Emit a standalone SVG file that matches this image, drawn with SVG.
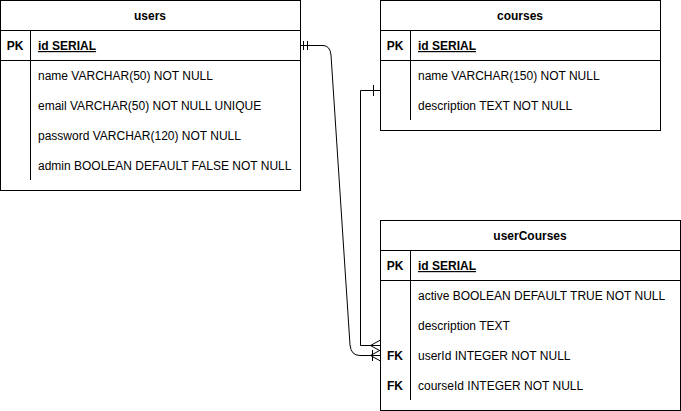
<svg xmlns="http://www.w3.org/2000/svg" width="681" height="411" viewBox="0 0 681 411">
<style>
.box{fill:#fff;stroke:#000;stroke-width:1}
.ln{stroke:#000;stroke-width:1;fill:none}
text{font-family:"Liberation Sans",Arial,sans-serif;font-size:12px;fill:#000}
.h{font-weight:bold;text-anchor:middle}
.k{font-weight:bold;text-anchor:middle}
.pk{font-weight:bold;text-decoration:underline}
.c{fill:none;stroke:#000;stroke-width:1}
</style>
<rect width="681" height="411" fill="#fff"/>
<g id="users">
<rect class="box" x="0.5" y="0.5" width="300" height="190"/>
<line class="ln" x1="0.5" y1="30.5" x2="300.5" y2="30.5"/>
<line class="ln" x1="0.5" y1="60.5" x2="300.5" y2="60.5"/>
<line class="ln" x1="30.5" y1="30.5" x2="30.5" y2="180"/>
<text class="h" x="150" y="20">users</text>
<text class="k" x="15" y="50">PK</text>
<text class="pk" x="38" y="50">id SERIAL</text>
<text x="38" y="80">name VARCHAR(50) NOT NULL</text>
<text x="38" y="110">email VARCHAR(50) NOT NULL UNIQUE</text>
<text x="38" y="140">password VARCHAR(120) NOT NULL</text>
<text x="38" y="170">admin BOOLEAN DEFAULT FALSE NOT NULL</text>
</g>
<g id="courses">
<rect class="box" x="380.5" y="0.5" width="280" height="130"/>
<line class="ln" x1="380.5" y1="30.5" x2="660.5" y2="30.5"/>
<line class="ln" x1="380.5" y1="60.5" x2="660.5" y2="60.5"/>
<line class="ln" x1="410.5" y1="30.5" x2="410.5" y2="120"/>
<text class="h" x="520" y="20">courses</text>
<text class="k" x="395" y="50">PK</text>
<text class="pk" x="418" y="50">id SERIAL </text>
<text x="418" y="80">name VARCHAR(150) NOT NULL</text>
<text x="418" y="110">description TEXT NOT NULL</text>
</g>
<g id="userCourses">
<rect class="box" x="380.5" y="220.5" width="300" height="190"/>
<line class="ln" x1="380.5" y1="250.5" x2="680.5" y2="250.5"/>
<line class="ln" x1="380.5" y1="280.5" x2="680.5" y2="280.5"/>
<line class="ln" x1="410.5" y1="250.5" x2="410.5" y2="400"/>
<text class="h" x="530" y="240">userCourses</text>
<text class="k" x="395" y="270">PK</text>
<text class="pk" x="418" y="270">id SERIAL</text>
<text x="418" y="300">active BOOLEAN DEFAULT TRUE NOT NULL</text>
<text x="418" y="330">description TEXT</text>
<text class="k" x="395" y="360">FK</text>
<text x="418" y="360">userId INTEGER NOT NULL</text>
<text class="k" x="395" y="390">FK</text>
<text x="418" y="390">courseId INTEGER NOT NULL</text>
</g>
<g id="connectors">
<path class="c" d="M300.5 45.5 L323 45.5 Q330 45.5 331 55 L350 345 Q351 355.5 360 355.5 L380.5 355.5"/>
<line class="c" x1="303.5" y1="41" x2="303.5" y2="50"/>
<line class="c" x1="307.5" y1="41" x2="307.5" y2="50"/>
<line class="c" x1="372.5" y1="350" x2="372.5" y2="361"/>
<path class="c" d="M380.5 350 L370.5 355.5 L380.5 361"/>
<path class="c" d="M380.5 90.5 L360.5 90.5 L360.5 345.5 L380.5 345.5"/>
<line class="c" x1="373.5" y1="85" x2="373.5" y2="96"/>
<path class="c" d="M380.5 340 L370.5 345.5 L380.5 351"/>
</g>
</svg>
